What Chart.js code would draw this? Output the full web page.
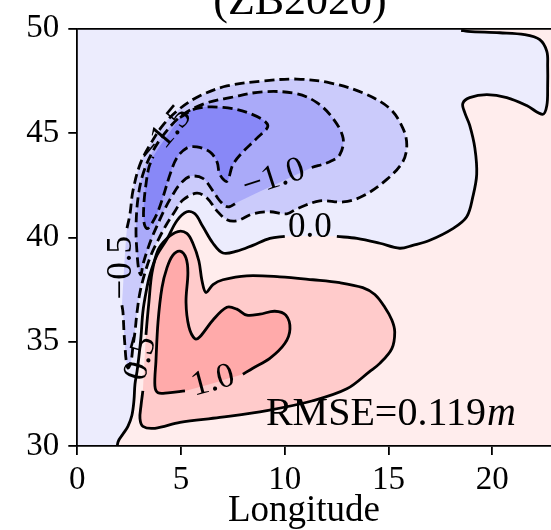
<!DOCTYPE html>
<html>
<head>
<meta charset="utf-8">
<script src="https://cdn.jsdelivr.net/npm/chart.js@4.4.1/dist/chart.umd.min.js"></script>
<style>
html, body { margin: 0; padding: 0; background: #fff; overflow: hidden; }
#wrap { position: relative; width: 600px; height: 530px; }
</style>
</head>
<body>
<div id="wrap"><canvas id="chart"></canvas></div>
<script>
// axis ticks
const xTicks = [0, 5, 10, 15, 20];
const yTicks = [30, 35, 40, 45, 50];

// contour lines, [lon, lat]
const zeroWest = [[1.91,29.6],[1.96,30.19],[2.20,30.57],[2.44,30.94],[2.63,31.46],[2.73,32.17],[2.78,32.97],[2.88,33.58],[2.97,34.29],[3.07,35.24],[3.16,36.42],[3.31,37.36],[3.50,38.21],[3.84,39.15],[4.32,39.91],[4.80,40.80],[5.28,41.23],[5.67,41.13],[6.05,40.52],[6.54,39.72],[7.02,39.25],[7.69,39.34],[8.46,39.62],[9.28,39.95],[10.0,40.05]];
const zeroEast = [[12.51,40.05],[13.48,39.95],[14.58,39.72],[15.54,39.48],[16.17,39.62],[16.99,39.86],[18.10,40.42],[18.77,40.99],[19.06,41.93],[19.25,43.02],[19.16,44.29],[18.91,45.38],[18.67,45.99],[18.58,46.42],[18.91,46.70],[19.74,46.84],[20.70,46.70],[21.66,46.32],[22.43,45.90],[22.63,46.32],[22.67,47.26],[22.67,48.21],[22.63,48.92],[22.29,49.48],[21.56,49.72],[20.36,49.81],[18.82,49.88],[18.5,49.93]];
const zeroEdge = [[18.5,51.5],[27,51.5],[27,28.5],[1.91,28.5]];
const pos05 = [[3.16,32.64],[3.07,31.93],[3.02,31.32],[3.16,30.94],[3.74,30.85],[4.95,31.13],[6.87,31.37],[9.14,31.70],[11.35,32.17],[12.99,32.74],[14.10,33.58],[14.58,33.96],[15.16,34.67],[15.30,35.47],[15.16,36.04],[14.82,36.65],[14.34,37.26],[13.76,37.59],[12.65,37.83],[11.35,37.97],[9.76,38.11],[8.17,38.16],[7.02,37.97],[6.54,37.74],[6.20,37.36],[6.01,37.92],[5.86,38.87],[5.57,39.72],[5.28,40.19],[4.85,40.28],[4.32,39.95],[3.89,39.39],[3.60,38.30],[3.45,36.89],[3.36,35.94],[3.31,35.33]];
const pos10 = [[7.98,33.44],[8.46,33.73],[9.28,34.20],[10.0,34.91],[10.25,35.61],[10.05,36.27],[9.52,36.46],[8.80,36.32],[8.17,36.27],[7.69,36.56],[7.21,36.65],[6.54,36.04],[5.91,35.24],[5.67,35.14],[5.38,35.71],[5.24,36.89],[5.33,38.30],[5.24,39.01],[4.95,39.34],[4.61,39.15],[4.32,38.54],[4.08,37.59],[3.89,35.94],[3.79,34.06],[3.74,32.88],[3.89,32.55],[4.37,32.55],[5.19,32.64]];
const neg05 = [[2.15,36.75],[2.20,36.42],[2.25,35.47],[2.30,34.76],[2.35,34.15],[2.44,33.73],[2.59,34.06],[2.68,34.76],[2.78,35.47],[2.88,36.42],[3.02,37.36],[3.26,38.30],[3.55,39.15],[3.89,39.86],[4.27,40.57],[4.66,41.18],[5.09,41.79],[5.76,42.12],[6.25,41.89],[6.73,41.27],[7.21,40.85],[7.69,40.80],[8.46,41.13],[9.28,41.23],[10.10,41.13],[10.58,41.37],[11.69,41.75],[12.81,41.70],[13.76,41.98],[14.92,42.78],[15.69,43.63],[15.88,44.43],[15.69,45.24],[15.06,46.18],[13.76,46.93],[12.17,47.41],[10.58,47.59],[8.95,47.50],[7.21,47.26],[5.91,46.79],[4.95,46.18],[4.13,45.38],[3.50,44.43],[3.02,43.49],[2.68,42.22],[2.54,41.13],[2.39,40.42]];
const neg10 = [[11.30,43.35],[12.17,43.63],[12.65,43.96],[12.81,44.76],[12.32,45.71],[11.55,46.46],[10.58,46.89],[8.95,46.98],[7.36,46.70],[6.15,46.42],[5.04,45.85],[4.22,45.00],[3.60,44.06],[3.16,43.02],[2.92,41.84],[2.83,40.42],[2.88,39.25],[2.97,38.40],[3.07,38.21],[3.16,38.68],[3.36,39.34],[3.60,40.0],[3.89,40.66],[4.22,41.37],[4.56,41.98],[4.95,42.55],[5.43,42.92],[6.05,42.83],[6.54,42.22],[6.87,41.75],[7.26,41.46],[7.74,41.70]];
const neg15 = [[4.95,45.75],[5.76,46.18],[7.02,46.23],[8.32,45.94],[9.18,45.38],[8.66,44.76],[7.98,44.10],[7.50,43.49],[7.21,42.69],[6.87,43.02],[6.73,43.63],[6.39,44.10],[5.76,44.34],[5.28,44.29],[4.80,43.82],[4.47,43.02],[4.13,41.93],[3.84,41.13],[3.55,40.61],[3.36,40.42],[3.21,40.75],[3.21,41.60],[3.31,42.55],[3.45,43.35],[3.65,43.87]];

// inline contour labels
const labelText = ['\u22121.5', '\u22121.0', '\u22120.5', '0.0', '0.5', '1.0'];
const labelLon = [4.23, 9.47, 2.16, 11.21, 3.07, 6.54];
const labelLat = [44.91, 42.83, 38.54, 40.47, 34.20, 33.11];
const labelAngle = [-50, -18, -90, 0, -75, -15];

const titleText = '(ZB2020)';
const xTitle = 'Longitude';
const rmseText = 'RMSE=0.119';
const rmseUnit = 'm';

const serif = "'Liberation Serif', 'Times New Roman', serif";

function pts(arr) {
    return arr.map(p => ({ x: p[0], y: p[1] }));
}

function fillSet(arr, color) {
    return {
        data: pts(arr.concat([arr[0]])),
        showLine: true,
        fill: 'shape',
        backgroundColor: color,
        borderWidth: 0,
        pointRadius: 0,
        tension: 0.35
    };
}

function lineSet(arr, dashed) {
    return {
        data: pts(arr),
        showLine: true,
        fill: false,
        borderColor: '#000',
        borderWidth: 2.8,
        borderDash: dashed ? [10, 5] : [],
        pointRadius: 0,
        tension: 0.35
    };
}

let datasets = [
    fillSet(zeroWest.concat(zeroEast, zeroEdge), '#FFEDED'),
    fillSet(pos05, '#FFCBCB'),
    fillSet(pos10, '#FFAAAA'),
    fillSet(neg05, '#CBCBFB'),
    fillSet(neg10, '#AAAAF9'),
    fillSet(neg15, '#8888F7'),
    lineSet(zeroWest, false),
    lineSet(zeroEast, false),
    lineSet(pos05, false),
    lineSet(pos10, false),
    lineSet(neg05, true),
    lineSet(neg10, true),
    lineSet(neg15, true)
];
datasets.forEach((d, i) => { d.order = datasets.length - i; });

const decor = {
    id: 'decor',
    beforeDatasetsDraw(chart) {
        const a = chart.chartArea;
        const c = chart.ctx;
        c.save();
        c.fillStyle = '#ECECFD';
        c.fillRect(a.left, a.top, a.right - a.left, a.bottom - a.top);
        c.restore();
    },
    afterDatasetsDraw(chart) {
        const c = chart.ctx;
        const xs = chart.scales.x;
        const ys = chart.scales.y;
        c.save();
        c.fillStyle = '#000';
        c.font = '35px ' + serif;
        c.textAlign = 'center';
        c.textBaseline = 'middle';
        for (let i = 0; i < labelText.length; i++) {
            c.save();
            c.translate(xs.getPixelForValue(labelLon[i]), ys.getPixelForValue(labelLat[i]));
            c.rotate(labelAngle[i] * Math.PI / 180);
            c.fillText(labelText[i], 0, 0);
            c.restore();
        }

        // RMSE note
        c.textAlign = 'left';
        c.textBaseline = 'alphabetic';
        c.font = '40px ' + serif;
        const rx = xs.getPixelForValue(9.09);
        const ry = ys.getPixelForValue(30.99);
        c.fillText(rmseText, rx, ry);
        const w = c.measureText(rmseText).width;
        c.font = 'italic 40px ' + serif;
        c.fillText(rmseUnit, rx + w + 1, ry);
        c.restore();
    },
    afterDraw(chart) {
        const a = chart.chartArea;
        const c = chart.ctx;
        c.save();
        c.strokeStyle = '#000';
        c.lineWidth = 1.8;
        c.beginPath();
        c.moveTo(a.left, a.top);
        c.lineTo(a.right, a.top);
        c.stroke();
        c.fillStyle = '#000';
        c.textAlign = 'center';
        c.textBaseline = 'alphabetic';
        c.font = '44px ' + serif;
        c.fillText(titleText, 300, 14);
        c.font = '37px ' + serif;
        c.fillText(xTitle, 304, 521);
        c.restore();
    }
};

const chart = new Chart(document.getElementById('chart'), {
    type: 'scatter',
    data: { datasets: datasets },
    options: {
        animation: false,
        responsive: true,
        maintainAspectRatio: false,
        events: [],
        layout: { padding: { top: 22, right: 4, left: 0, bottom: 0 } },
        plugins: {
            legend: { display: false },
            tooltip: { enabled: false },
            title: { display: false }
        },
        scales: {
            x: {
                type: 'linear',
                min: 0,
                max: 25,
                afterBuildTicks: s => { s.ticks = xTicks.map(v => ({ value: v })); },
                afterFit: s => { s.height = 84; },
                ticks: { color: '#000', padding: 6, font: { family: serif, size: 33 } },
                grid: { drawOnChartArea: false, drawTicks: true, tickLength: 9, color: '#000', lineWidth: 1.8 },
                border: { display: true, color: '#000', width: 1.8, z: 1 }
            },
            y: {
                type: 'linear',
                min: 30,
                max: 50,
                afterBuildTicks: s => { s.ticks = yTicks.map(v => ({ value: v })); },
                afterFit: s => { s.width = 77.3; },
                ticks: { color: '#000', padding: 9, font: { family: serif, size: 33 } },
                grid: { drawOnChartArea: false, drawTicks: true, tickLength: 9, color: '#000', lineWidth: 1.8 },
                border: { display: true, color: '#000', width: 1.8, z: 1 }
            }
        }
    },
    plugins: [decor]
});
</script>
</body>
</html>
